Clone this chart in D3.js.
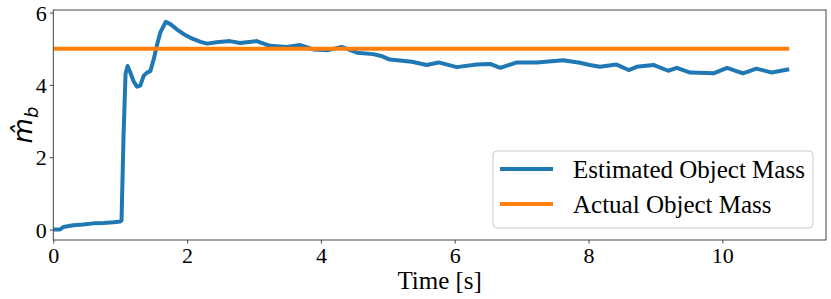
<!DOCTYPE html>
<html>
<head>
<meta charset="utf-8">
<script src="https://cdn.jsdelivr.net/npm/d3@7"></script>
<style>
  body { margin: 0; background: #fff; }
  svg { display: block; }
</style>
</head>
<body>
<svg id="chart" width="831" height="299"></svg>
<script>
// estimated mass trace
var times = [0, 0.1, 0.15, 0.3, 0.45, 0.6, 0.75, 0.9, 1.0, 1.02, 1.05, 1.08, 1.11, 1.15, 1.2, 1.25,
  1.3, 1.35, 1.4, 1.45, 1.5, 1.55, 1.6, 1.68, 1.75, 1.85, 1.95, 2.05, 2.2, 2.3, 2.44, 2.64,
  2.79, 3.04, 3.24, 3.49, 3.69, 3.89, 4.11, 4.31, 4.54, 4.78, 4.9, 5.03, 5.36, 5.58, 5.76,
  6.03, 6.33, 6.53, 6.68, 6.93, 7.23, 7.62, 7.87, 8.02, 8.17, 8.42, 8.6, 8.72, 8.97, 9.19,
  9.32, 9.52, 9.87, 10.07, 10.31, 10.51, 10.74, 11.0];
var estMass = [0, 0, 0.07, 0.12, 0.14, 0.17, 0.18, 0.2, 0.22, 0.25, 2.6, 4.3, 4.52, 4.35, 4.1, 3.95,
  3.98, 4.25, 4.34, 4.38, 4.7, 5.1, 5.45, 5.74, 5.68, 5.53, 5.4, 5.3, 5.19, 5.14, 5.18, 5.21,
  5.16, 5.21, 5.08, 5.05, 5.1, 4.98, 4.96, 5.05, 4.89, 4.85, 4.8, 4.7, 4.64, 4.55, 4.62,
  4.49, 4.56, 4.58, 4.47, 4.62, 4.62, 4.68, 4.61, 4.55, 4.5, 4.56, 4.41, 4.5, 4.55, 4.39,
  4.47, 4.34, 4.32, 4.47, 4.32, 4.45, 4.34, 4.43];
var actualMass = 5;
var actualSpan = [0, 11];

var xTicks = [0, 2, 4, 6, 8, 10];
var yTicks = [0, 2, 4, 6];
var legendLabels = ["Estimated Object Mass", "Actual Object Mass"];
var colors = ["#1f77b4", "#ff7f0e"];

var margin = {left: 53.3, right: 5, top: 10, bottom: 59};
var W = 831, H = 299;

var svg = d3.select('#chart');

var x = d3.scaleLinear().domain([0, 11.55]).range([margin.left, W - margin.right]);
var y = d3.scaleLinear().domain([-0.29, 6.07]).range([H - margin.bottom, margin.top]);

// lines first, frame on top
var line = d3.line().x(function(d) { return x(d[0]); }).y(function(d) { return y(d[1]); });

svg.append('path')
  .datum(times.map(function(t, i) { return [t, estMass[i]]; }))
  .attr('d', line)
  .attr('fill', 'none')
  .attr('stroke', colors[0])
  .attr('stroke-width', 4)
  .attr('stroke-linejoin', 'round')
  .attr('stroke-linecap', 'butt');

svg.append('path')
  .datum(actualSpan.map(function(t) { return [t, actualMass]; }))
  .attr('d', line)
  .attr('fill', 'none')
  .attr('stroke', colors[1])
  .attr('stroke-width', 4);

// axes
var xAxis = svg.append('g')
  .attr('transform', 'translate(0,' + (H - margin.bottom) + ')')
  .call(d3.axisBottom(x).tickValues(xTicks).tickFormat(d3.format('d')).tickSize(3.5).tickPadding(4));
var yAxis = svg.append('g')
  .attr('transform', 'translate(' + margin.left + ',0)')
  .call(d3.axisLeft(y).tickValues(yTicks).tickFormat(d3.format('d')).tickSize(3.5).tickPadding(3));

[xAxis, yAxis].forEach(function(g) {
  g.select('.domain').remove();
  g.selectAll('.tick line').attr('stroke', '#444');
  g.selectAll('.tick text')
    .attr('fill', '#000')
    .style('font-family', '"Liberation Serif", "Times New Roman", serif')
    .style('font-size', '22px');
});
yAxis.selectAll('.tick text').attr('dy', '0.35em');

// frame
svg.append('rect')
  .attr('x', margin.left).attr('y', margin.top)
  .attr('width', W - margin.right - margin.left)
  .attr('height', H - margin.bottom - margin.top)
  .attr('fill', 'none')
  .attr('stroke', '#444')
  .attr('stroke-width', 1);

// axis labels
svg.append('text')
  .attr('x', (margin.left + W - margin.right) / 2)
  .attr('y', 289)
  .attr('text-anchor', 'middle')
  .style('font-family', '"Liberation Serif", "Times New Roman", serif')
  .style('font-size', '25px')
  .text('Time [s]');

var yl = svg.append('text')
  .attr('transform', 'translate(32,' + ((margin.top + H - margin.bottom) / 2) + ') rotate(-90)')
  .attr('text-anchor', 'middle')
  .style('font-family', '"DejaVu Sans", sans-serif')
  .style('font-size', '26px')
  .style('font-style', 'italic');
yl.append('tspan').text('m\u0302');
yl.append('tspan').attr('dy', 6).style('font-size', '18px').text('b');

// legend
var lg = svg.append('g').attr('transform', 'translate(493,151)');
lg.append('rect')
  .attr('width', 320).attr('height', 77)
  .attr('rx', 4)
  .attr('fill', '#fff').attr('fill-opacity', 0.8)
  .attr('stroke', '#ccc');

legendLabels.forEach(function(lbl, i) {
  var row = lg.append('g').attr('transform', 'translate(0,' + (18 + i * 35) + ')');
  row.append('line')
    .attr('x1', 7).attr('x2', 60)
    .attr('stroke', colors[i]).attr('stroke-width', 4);
  row.append('text')
    .attr('x', 80).attr('dy', '0.35em')
    .style('font-family', '"Liberation Serif", "Times New Roman", serif')
    .style('font-size', '25px')
    .text(lbl);
});
</script>
</body>
</html>
